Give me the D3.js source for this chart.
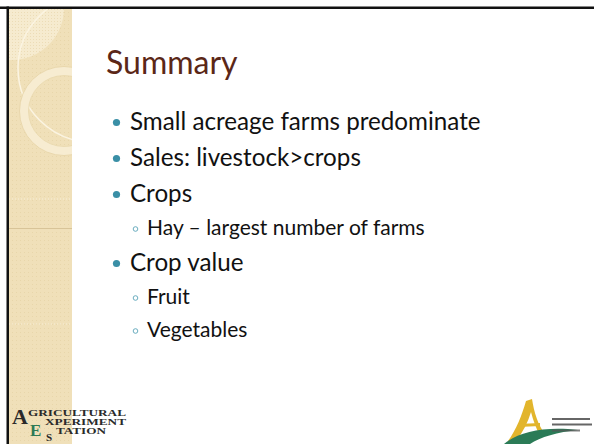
<!DOCTYPE html>
<html>
<head>
<meta charset="utf-8">
<script src="https://cdn.jsdelivr.net/npm/d3@7"></script>
<style>
  html, body { margin: 0; padding: 0; background: #fff; }
  svg { display: block; }
</style>
</head>
<body>
<script>
// Slide content
var title = "Summary";
var items = ["Small acreage farms predominate", "Sales: livestock>crops", "Crops",
  "Hay \u2013 largest number of farms", "Crop value", "Fruit", "Vegetables"];
var levels = [0, 0, 0, 1, 0, 1, 1];

var width = 594, height = 444;

var svg = d3.select("body").append("svg")
  .attr("width", width)
  .attr("height", height);

var defs = svg.append("defs");
defs.append("clipPath").attr("id", "panelClip")
  .append("rect").attr("x", 9).attr("y", 9).attr("width", 63).attr("height", height);

var pat = defs.append("pattern").attr("id", "dots")
  .attr("width", 4).attr("height", 4).attr("patternUnits", "userSpaceOnUse");
pat.append("rect").attr("width", 4).attr("height", 4).attr("fill", "#f0e0b9");
pat.append("rect").attr("width", 1).attr("height", 1).attr("fill", "#e8d6aa");

var hatch = defs.append("pattern").attr("id", "hatch")
  .attr("width", 3).attr("height", 3).attr("patternUnits", "userSpaceOnUse");
hatch.append("rect").attr("width", 3).attr("height", 3).attr("fill", "#f6ebcf");
hatch.append("rect").attr("width", 1).attr("height", 1).attr("fill", "#ecdcb6");

// left decorative panel
var panel = svg.append("g").attr("clip-path", "url(#panelClip)");
panel.append("rect").attr("x", 9).attr("y", 9).attr("width", 63).attr("height", height)
  .attr("fill", "url(#dots)");
panel.append("circle").attr("cx", 12).attr("cy", 8).attr("r", 52)
  .attr("fill", "url(#hatch)");
panel.append("circle").attr("cx", 92).attr("cy", 68).attr("r", 74)
  .attr("fill", "none").attr("stroke", "#fbf4e2").attr("stroke-width", 1.5);
panel.append("circle").attr("cx", 64).attr("cy", 111).attr("r", 40)
  .attr("fill", "none").attr("stroke", "#f7ecd1").attr("stroke-width", 9);
panel.append("circle").attr("cx", 64).attr("cy", 111).attr("r", 44.5)
  .attr("fill", "none").attr("stroke", "#e6d3a6").attr("stroke-width", 0.8);
panel.append("circle").attr("cx", 64).attr("cy", 111).attr("r", 35.5)
  .attr("fill", "none").attr("stroke", "#e9d8ad").attr("stroke-width", 0.8);
panel.append("line").attr("x1", 9).attr("x2", 72).attr("y1", 228.5).attr("y2", 228.5)
  .attr("stroke", "#d8c498").attr("stroke-width", 1);
[199, 324].forEach(function(y) {
  panel.append("line").attr("x1", 9).attr("x2", 72).attr("y1", y).attr("y2", y)
    .attr("stroke", "#f7eed8").attr("stroke-width", 1).attr("stroke-dasharray", "1,2");
});

// slide border
svg.append("rect").attr("x", 0).attr("y", 6.5).attr("width", width).attr("height", 2.5).attr("fill", "#111");
svg.append("rect").attr("x", 6.5).attr("y", 6.5).attr("width", 2.5).attr("height", height).attr("fill", "#111");

// title
svg.append("text")
  .attr("x", 106).attr("y", 74)
  .attr("font-family", "Lato, 'Open Sans', sans-serif")
  .attr("font-size", 32)
  .attr("fill", "#5b2717")
  .text(title);

// bullet rows, y from cumulative steps
var steps = levels.map(function(l) { return l ? 33 : 36; });
var ys = [];
steps.reduce(function(acc, s, i) { var v = i === 0 ? 0 : acc + s; ys.push(v); return v; }, 0);
var y = d3.scaleLinear().domain([0, 1]).range([130, 131]);

var rows = svg.selectAll("g.row").data(items).enter().append("g")
  .attr("class", "row")
  .attr("transform", function(d, i) { return "translate(0," + y(ys[i]) + ")"; });

rows.append("text")
  .attr("x", function(d, i) { return levels[i] ? 147 : 130; })
  .attr("font-family", "Lato, 'Open Sans', sans-serif")
  .attr("font-size", function(d, i) { return levels[i] ? 21 : 24.2; })
  .attr("fill", "#111")
  .text(function(d) { return d; });

rows.filter(function(d, i) { return !levels[i]; }).append("circle")
  .attr("cx", 116.5).attr("cy", -7.5).attr("r", 3.6).attr("fill", "#3a8fa6");
rows.filter(function(d, i) { return levels[i]; }).append("circle")
  .attr("cx", 135.5).attr("cy", -6).attr("r", 2.3)
  .attr("fill", "none").attr("stroke", "#5aa4b8").attr("stroke-width", 0.9);

// bottom-left logo (Agricultural Experiment Station)
var logoL = svg.append("g").attr("font-family", "'Liberation Serif', 'DejaVu Serif', serif")
  .attr("font-weight", "bold").attr("fill", "#2a2a2a");
logoL.append("text").attr("x", 12).attr("y", 424).attr("font-size", 22).text("A");
logoL.append("text").attr("x", 28).attr("y", 416).attr("font-size", 8.5)
  .attr("textLength", 98).attr("lengthAdjust", "spacingAndGlyphs").text("GRICULTURAL");
logoL.append("text").attr("x", 30).attr("y", 436).attr("font-size", 17).attr("fill", "#2e7a55").text("E");
logoL.append("text").attr("x", 45).attr("y", 425).attr("font-size", 8.5)
  .attr("textLength", 81).attr("lengthAdjust", "spacingAndGlyphs").text("XPERIMENT");
logoL.append("text").attr("x", 46).attr("y", 440.5).attr("font-size", 11).text("S");
logoL.append("text").attr("x", 56).attr("y", 434).attr("font-size", 8.5)
  .attr("textLength", 50).attr("lengthAdjust", "spacingAndGlyphs").text("TATION");

// bottom-right logo
var logoR = svg.append("g");
logoR.append("path")
  .attr("d", "M508,441 C516,430 522,415 526,401 L532,399 C534,412 538,425 545,434 L540,436 C536,428 533,420 531,412 C528,422 523,432 516,441 Z")
  .attr("fill", "#e2b52c");
logoR.append("path")
  .attr("d", "M518,424 L540,423 L540,426 L518,427 Z").attr("fill", "#e2b52c");
logoR.append("path")
  .attr("d", "M504,444 C518,432 545,426 578,430 C558,432 540,437 530,444 Z")
  .attr("fill", "#2b7b57");
[[552, 418, 38, "#333"], [552, 423.5, 40, "#333"], [552, 429.5, 28, "#555"]].forEach(function(r) {
  logoR.append("rect").attr("x", r[0]).attr("y", r[1]).attr("width", r[2]).attr("height", 2)
    .attr("fill", r[3]).attr("opacity", 0.75);
});
</script>
</body>
</html>
